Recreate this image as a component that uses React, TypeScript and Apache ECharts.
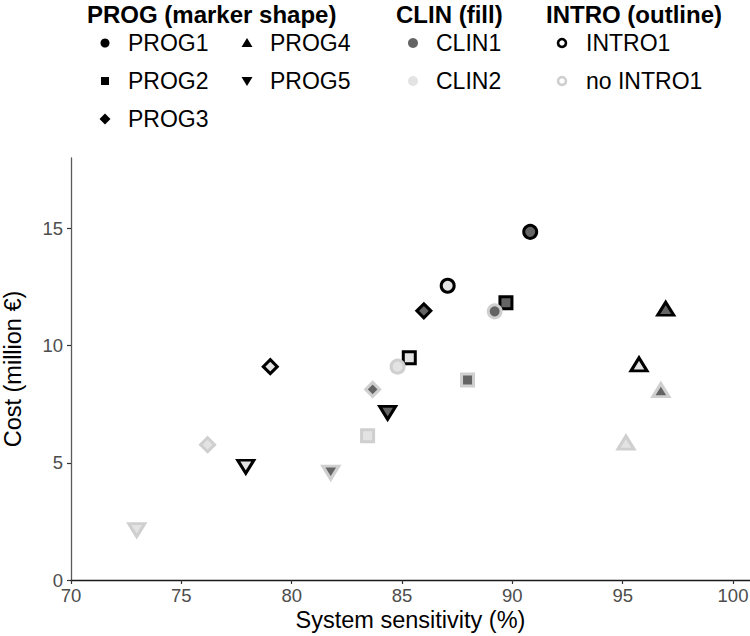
import React, { useEffect, useRef } from "react";
import * as echarts from "echarts";

// ---- data ----
const progNames = ["PROG1", "PROG2", "PROG3", "PROG4", "PROG5"];
const clinNames = ["CLIN1", "CLIN2"];
const introNames = ["INTRO1", "no INTRO1"];
const xTicks = [70, 75, 80, 85, 90, 95, 100];
const yTicks = [0, 5, 10, 15];

// one entry per point: programme index, CLIN index (0 = CLIN1), INTRO index (0 = INTRO1)
const pointProg = [0, 0, 0, 0, 1, 1, 1, 1, 2, 2, 2, 2, 3, 3, 3, 3, 4, 4, 4, 4];
const pointClin = [0, 1, 0, 1, 0, 1, 0, 1, 0, 1, 0, 1, 0, 1, 0, 1, 0, 1, 0, 1];
const pointIntro = [0, 0, 1, 1, 0, 0, 1, 1, 0, 0, 1, 1, 0, 0, 1, 1, 0, 0, 1, 1];
const sensitivity = [
  90.81, 87.07, 89.2, 84.8, 89.71, 85.33, 87.97, 83.44, 85.99, 79.03, 83.67, 76.19,
  96.95, 95.74, 96.73, 95.15, 84.35, 77.92, 81.77, 72.98,
];
const cost = [
  14.85, 12.55, 11.46, 9.1, 11.83, 9.48, 8.53, 6.15, 11.48, 9.1, 8.13, 5.77,
  11.57, 9.2, 8.1, 5.86, 7.13, 4.83, 4.58, 2.13,
];

// ---- styles ----
const FONT = "'Liberation Sans', Arial, Helvetica, sans-serif";
const fillColors = ["#646464", "#e3e3e3"];
const outlineColors = ["#000000", "#cfcfcf"];
const symbols = ["circle", "rect", "diamond", "triangle", "triangle"];
const symbolRotates = [0, 0, 0, 0, 180];
const symbolSizes: any[] = [13, 12, 14, [16, 13], [16, 13]];

export default function App() {
  const ref = useRef<HTMLDivElement>(null);

  useEffect(() => {
    if (!ref.current) return;
    const chart = echarts.init(ref.current, undefined, { renderer: "svg" });

    const series: any[] = progNames.map((name, p) => ({
      type: "scatter",
      name,
      symbol: symbols[p],
      symbolRotate: symbolRotates[p],
      symbolSize: symbolSizes[p],
      z: p === 0 ? 4 : 2,
      itemStyle: { opacity: 1 },
      data: sensitivity
        .map((x, i) => ({ i, x }))
        .filter(({ i }) => pointProg[i] === p)
        .map(({ i, x }) => ({
          value: [x, cost[i]],
          itemStyle: {
            color: fillColors[pointClin[i]],
            borderColor: outlineColors[pointIntro[i]],
            borderWidth: 3,
            borderJoin: "miter",
            opacity: 1,
          },
        })),
    }));

    // ---- legend drawn as graphic ----
    const g: any[] = [];
    const titleFont = `bold 24px ${FONT}`;
    const itemFont = `23px ${FONT}`;
    const addText = (text: string, x: number, y: number, font: string) =>
      g.push({
        type: "text",
        x,
        y,
        style: { text, font, fill: "#000", textVerticalAlign: "middle", verticalAlign: "middle" },
      });

    addText("PROG (marker shape)", 87, 14, titleFont);
    addText("CLIN (fill)", 396, 14, titleFont);
    addText("INTRO (outline)", 546, 14, titleFont);

    const rowY = [43, 81, 119];
    const progPos = [
      [105, rowY[0]],
      [105, rowY[1]],
      [105, rowY[2]],
      [247, rowY[0]],
      [247, rowY[1]],
    ];
    progNames.forEach((name, p) => {
      const [cx, cy] = progPos[p];
      const st = { fill: "#000" };
      if (p === 0) g.push({ type: "circle", shape: { cx, cy, r: 4.5 }, style: st });
      if (p === 1) g.push({ type: "rect", shape: { x: cx - 4, y: cy - 4, width: 8, height: 8 }, style: st });
      if (p === 2)
        g.push({ type: "polygon", shape: { points: [[cx, cy - 5.5], [cx + 5.5, cy], [cx, cy + 5.5], [cx - 5.5, cy]] }, style: st });
      if (p === 3)
        g.push({ type: "polygon", shape: { points: [[cx, cy - 5], [cx + 5.5, cy + 4], [cx - 5.5, cy + 4]] }, style: st });
      if (p === 4)
        g.push({ type: "polygon", shape: { points: [[cx, cy + 5], [cx + 5.5, cy - 4], [cx - 5.5, cy - 4]] }, style: st });
      addText(name, cx + 23, cy, itemFont);
    });

    clinNames.forEach((name, c) => {
      g.push({ type: "circle", shape: { cx: 413, cy: rowY[c], r: 5 }, style: { fill: fillColors[c] } });
      addText(name, 436, rowY[c], itemFont);
    });

    introNames.forEach((name, k) => {
      g.push({
        type: "circle",
        shape: { cx: 562, cy: rowY[k], r: 4 },
        style: { fill: "none", stroke: outlineColors[k], lineWidth: 2.6 },
      });
      addText(name, 586, rowY[k], itemFont);
    });

    chart.setOption({
      animation: false,
      backgroundColor: "#ffffff",
      textStyle: { fontFamily: FONT },
      grid: { left: 71, right: 0, top: 158, bottom: 56, containLabel: false, outerBoundsMode: "none" },
      xAxis: {
        type: "value",
        min: 70,
        max: 100.77,
        name: "System sensitivity (%)",
        nameLocation: "middle",
        nameGap: 28,
        nameMoveOverlap: false,
        nameTextStyle: { fontSize: 23.5, color: "#000", fontFamily: FONT },
        splitLine: { show: false },
        axisLine: { show: true, lineStyle: { color: "#1a1a1a", width: 1.3 } },
        axisTick: { show: true, length: 4, lineStyle: { color: "#333", width: 1.2 }, customValues: xTicks },
        axisLabel: { fontSize: 18.5, color: "#4d4d4d", margin: 6, fontFamily: FONT, customValues: xTicks },
      },
      yAxis: {
        type: "value",
        min: 0,
        max: 18,
        name: "Cost (million €)",
        nameLocation: "middle",
        nameGap: 46,
        nameMoveOverlap: false,
        nameTextStyle: { fontSize: 23.5, color: "#000", fontFamily: FONT },
        splitLine: { show: false },
        axisLine: { show: true, lineStyle: { color: "#5a5a5a", width: 1.3 } },
        axisTick: { show: true, length: 4, lineStyle: { color: "#333", width: 1.2 }, customValues: yTicks },
        axisLabel: { fontSize: 18.5, color: "#4d4d4d", margin: 8, fontFamily: FONT, customValues: yTicks },
      },
      series,
      graphic: g,
    });

    return () => chart.dispose();
  }, []);

  return (
    <div
      ref={ref}
      style={{ position: "absolute", left: 0, top: 0, width: 750, height: 636, overflow: "hidden" }}
    />
  );
}
